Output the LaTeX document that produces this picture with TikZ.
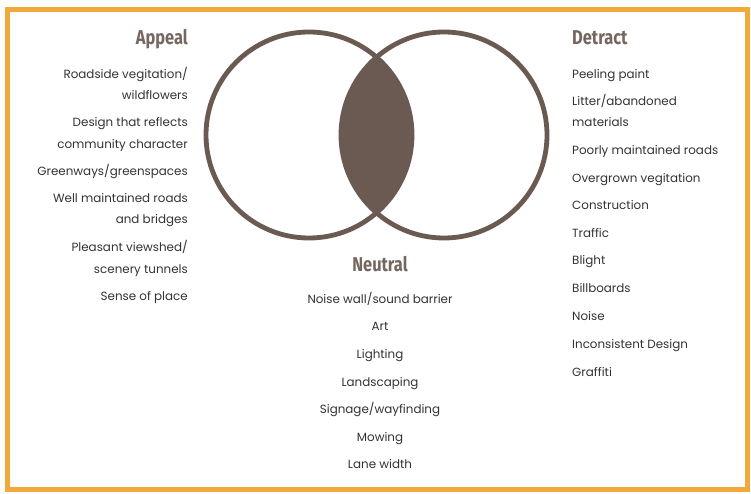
\documentclass[tikz,border=0pt]{standalone}
\usepackage{fontspec}
\setmainfont{Poppins}
\newfontfamily\headfont[FakeStretch=0.82]{Fira Sans}
\usepackage{xcolor}
\usepackage{tikz}
\usetikzlibrary{positioning}

\definecolor{frameorange}{HTML}{F2A93B}
\definecolor{venn}{HTML}{6A5A52}
\definecolor{headgrey}{HTML}{75665F}
\definecolor{itemgrey}{HTML}{333333}

\begin{document}
\begin{tikzpicture}[x=1pt,y=-1pt,
    head/.style={font=\headfont\bfseries\fontsize{20}{20}\selectfont,text=headgrey,inner sep=0pt},
    item/.style={font=\fontsize{11.9}{12}\selectfont,text=itemgrey,inner sep=0pt,yshift=-1.5pt},
    ring/.style={draw=venn,line width=4.8pt}]

    \useasboundingbox (0,0) rectangle (751,494);
    \fill[white] (0,0) rectangle (751,494);
    \draw[frameorange,line width=5pt] (7.5,9.5) rectangle (747,489.5);

    % the two sets
    \coordinate (lc) at (309,135);
    \coordinate (rc) at (444,135);
    \begin{scope}
        \clip (lc) circle (103);
        \fill[venn] (rc) circle (103);
    \end{scope}
    \draw[ring] (lc) circle (103);
    \draw[ring] (rc) circle (103);

    %left column
    \node[head,anchor=base east] (appeal) at (188,45) {Appeal};
    \node[item,anchor=mid east] (a1) at (188,74) {Roadside vegitation/};
    \node[item,anchor=mid east] (a2) at (188,95) {wildflowers};
    \node[item,anchor=mid east] (a3) at (188,122) {Design that reflects};
    \node[item,anchor=mid east] (a4) at (188,144) {community character};
    \node[item,anchor=mid east] (a5) at (188,171) {Greenways/greenspaces};
    \node[item,anchor=mid east] (a6) at (188,198) {Well maintained roads};
    \node[item,anchor=mid east] (a7) at (188,219) {and bridges};
    \node[item,anchor=mid east] (a8) at (188,247) {Pleasant viewshed/};
    \node[item,anchor=mid east] (a9) at (188,269) {scenery tunnels};
    \node[item,anchor=mid east] (a10) at (188,296) {Sense of place};

    %right column
    \node[head,anchor=base west] (detract) at (572,45) {Detract};
    \node[item,anchor=mid west] (d1) at (572,74) {Peeling paint};
    \node[item,anchor=mid west] (d2) at (572,101) {Litter/abandoned};
    \node[item,anchor=mid west] (d3) at (572,122) {materials};
    \node[item,anchor=mid west] (d4) at (572,150) {Poorly maintained roads};
    \node[item,anchor=mid west] (d5) at (572,178) {Overgrown vegitation};
    \node[item,anchor=mid west] (d6) at (572,205) {Construction};
    \node[item,anchor=mid west] (d7) at (572,233) {Traffic};
    \node[item,anchor=mid west] (d8) at (572,260) {Blight};
    \node[item,anchor=mid west] (d9) at (572,288) {Billboards};
    \node[item,anchor=mid west] (d10) at (572,316) {Noise};
    \node[item,anchor=mid west] (d11) at (572,344) {Inconsistent Design};
    \node[item,anchor=mid west] (d12) at (572,372) {Graffiti};

    %middle column
    \node[head,anchor=base] (neutral) at (380,271) {Neutral};
    \node[item,anchor=mid] (n1) at (380,299) {Noise wall/sound barrier};
    \node[item,anchor=mid] (n2) at (380,326) {Art};
    \node[item,anchor=mid] (n3) at (380,354) {Lighting};
    \node[item,anchor=mid] (n4) at (380,382) {Landscaping};
    \node[item,anchor=mid] (n5) at (380,409) {Signage/wayfinding};
    \node[item,anchor=mid] (n6) at (380,437) {Mowing};
    \node[item,anchor=mid] (n7) at (380,464) {Lane width};
\end{tikzpicture}
\end{document}
